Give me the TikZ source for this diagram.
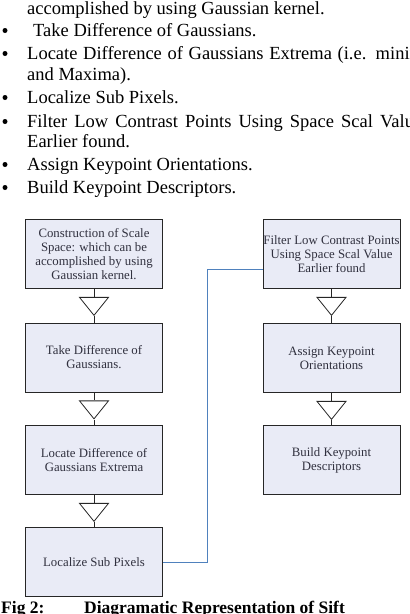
\documentclass[tikz,border=0pt]{standalone}
\usepackage{fontspec}
\setmainfont{Liberation Serif}
\usetikzlibrary{shapes.geometric,positioning}
\definecolor{boxfill}{RGB}{233,235,246}
\definecolor{boxtext}{RGB}{48,48,62}
\definecolor{linkblue}{RGB}{79,129,189}
\tikzset{
  stage/.style={draw=black!85, fill=boxfill, text=boxtext, line width=0.9pt,
    minimum width=137pt, minimum height=69pt, align=center,
    inner sep=0pt, font=\fontsize{12.8}{14}\selectfont},
  merge/.style={draw=black!85, fill=white, line width=0.8pt, isosceles triangle,
    isosceles triangle stretches, shape border rotate=270, inner sep=0pt,
    minimum width=29pt, minimum height=18pt},
  stem/.style={draw=black!85, line width=0.8pt},
  link/.style={draw=linkblue, line width=0.8pt},
  txtline/.style={anchor=base west, inner sep=0pt, font=\fontsize{18.5}{21}\selectfont},
}

\begin{document}
\begin{tikzpicture}[x=1pt, y=-1pt]
  \useasboundingbox (0,0) rectangle (410,614);
  \clip (0,0) rectangle (410,614);

  % Bullet list
  \foreach \y in {36,59,103,127,170,193} {
    \fill (5,\y-5.5) circle (2.5);
  }
  \node[txtline] (l0) at (27,14) {accomplished by using Gaussian kernel.};
  \node[txtline] (l1) at (33,36) {Take Difference of Gaussians.};
  \node[txtline] (l2) at (27,59) {\makebox[405pt][s]{Locate Difference of Gaussians Extrema (i.e. minima}};
  \node[txtline] (l3) at (27,80) {and Maxima).};
  \node[txtline] (l4) at (27,103) {Localize Sub Pixels.};
  \node[txtline] (l5) at (27,127) {\makebox[395pt][s]{Filter Low Contrast Points Using Space Scal Value}};
  \node[txtline] (l6) at (27,147) {Earlier found.};
  \node[txtline] (l7) at (27,170) {Assign Keypoint Orientations.};
  \node[txtline] (l8) at (27,193) {Build Keypoint Descriptors.};

  % Left column
  \node[stage] (scale) at (94,254) {Construction of Scale\\Space: which can be\\accomplished by using\\Gaussian kernel.};
  \node[stage] (dog) at (94,357.5) {Take Difference of\\Gaussians.};
  \node[stage] (extrema) at (94,460) {Locate Difference of\\Gaussians Extrema};
  \node[stage] (subpix) at (94,562) {Localize Sub Pixels};

  % Right column
  \node[stage] (filter) at (331.5,254) {Filter Low Contrast Points\\Using Space Scal Value\\Earlier found};
  \node[stage] (orient) at (331.5,358) {Assign Keypoint\\Orientations};
  \node[stage] (desc) at (331.5,460) {Build Keypoint\\Descriptors};

  % Merge triangles
  \node[merge, below=8pt of scale] (m1) {};
  \node[merge, below=8pt of dog] (m2) {};
  \node[merge, below=8pt of extrema] (m3) {};
  \node[merge, below=8pt of filter] (m4) {};
  \node[merge, below=8pt of orient] (m5) {};
  \draw[stem] (scale) -- (m1) (m1) -- (dog);
  \draw[stem] (dog) -- (m2) (m2) -- (extrema);
  \draw[stem] (extrema) -- (m3) (m3) -- (subpix);
  \draw[stem] (filter) -- (m4) (m4) -- (orient);
  \draw[stem] (orient) -- (m5) (m5) -- (desc);

  % Link to second column
  \coordinate (bend) at (207,269);
  \draw[link] (subpix.east) -| (bend) -- (bend -| filter.west);

  % Caption
  \node[txtline, font=\fontsize{17.5}{21}\selectfont\bfseries] (fig) at (1,613) {Fig 2:};
  \node[txtline, font=\fontsize{17.5}{21}\selectfont\bfseries] (cap) at (84,613) {Diagramatic Representation of Sift};
\end{tikzpicture}
\end{document}
